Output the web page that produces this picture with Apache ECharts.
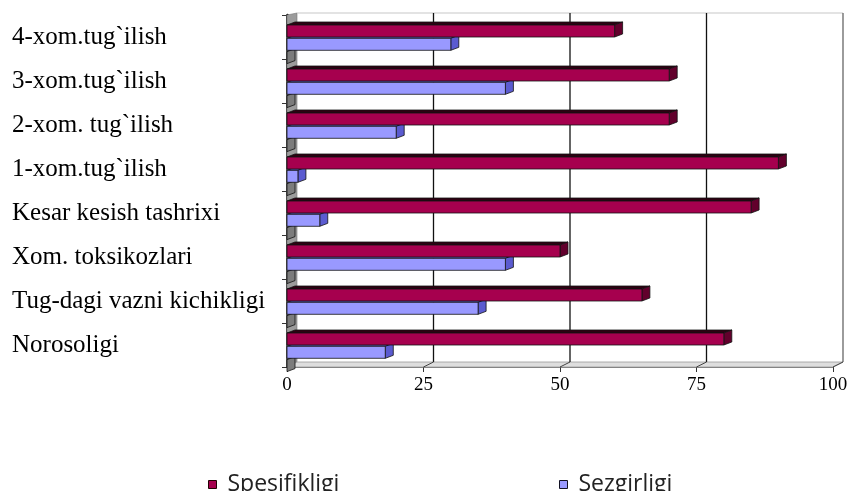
<!DOCTYPE html>
<html>
<head>
<meta charset="utf-8">
<script src="https://cdn.jsdelivr.net/npm/echarts@6/dist/echarts.min.js"></script>
<style>
  html, body { margin: 0; padding: 0; background: #fff; }
  #chart { width: 851px; height: 491px; }
</style>
</head>
<body>
<div id="chart"></div>
<script>
// Categories, bottom to top
const categories = [
  'Norosoligi',
  'Tug-dagi vazni kichikligi',
  'Xom. toksikozlari',
  'Kesar kesish tashrixi',
  '1-xom.tug`ilish',
  '2-xom. tug`ilish',
  '3-xom.tug`ilish',
  '4-xom.tug`ilish'
];
const spesifikligi = [80, 65, 50, 85, 90, 70, 70, 60];
const sezgirligi   = [18, 35, 40, 6, 2, 20, 40, 30];
const boshqa       = [0, 0, 0, 0, 0, 0, 0, 0];
const xTicks = [0, 25, 50, 75, 100];

const RED = '#a6004e', RED_TOP = '#2e0012', RED_SIDE = '#62002c';
const BLUE = '#9999ff', BLUE_TOP = '#6b6bd8', BLUE_SIDE = '#5b5bd0';
const GREY = '#8c8c8c', GREY_TOP = '#7a7a7a', GREY_SIDE = '#7c7c7c';

// 3D bar depth and back wall offset (pixels)
const BAR_DX = 8, BAR_DY = 3;
const WALL_DX = 10, WALL_UP = 2, FLOOR_UP = 5;

function toPairs(values) {
  return values.map((v, i) => [v, i]);
}

function bar3d(slot, face, top, side) {
  return function (params, api) {
    const v = api.value(0), i = api.value(1);
    const c0 = api.coord([0, i]);
    const c1 = api.coord([v, i]);
    const bandH = api.size([0, 1])[1];
    const h = 12;
    const y0 = c0[1] - bandH / 2 + 10 + slot * 13.3;
    const x0 = c0[0], x1 = c1[0];
    const st = { stroke: '#111', lineWidth: 0.8 };
    const children = [
      { type: 'polygon', shape: { points: [[x0, y0], [x1, y0], [x1 + BAR_DX, y0 - BAR_DY], [x0 + BAR_DX, y0 - BAR_DY]] },
        style: Object.assign({ fill: top }, st) },
      { type: 'polygon', shape: { points: [[x1, y0], [x1 + BAR_DX, y0 - BAR_DY], [x1 + BAR_DX, y0 + h - BAR_DY], [x1, y0 + h]] },
        style: Object.assign({ fill: side }, st) }
    ];
    if (x1 > x0) {
      children.push({ type: 'rect', shape: { x: x0, y: y0, width: x1 - x0, height: h },
        style: Object.assign({ fill: face }, st) });
    }
    return { type: 'group', children };
  };
}

// Back wall, left wall, floor and gridlines
function renderWalls(params, api) {
  const cs = params.coordSys;
  const v = api.value(0);
  const fx = api.coord([v, 0])[0];
  const bx = fx + WALL_DX;
  const top = cs.y - WALL_UP;
  const bottom = cs.y + cs.height - FLOOR_UP;
  const front = cs.y + cs.height;
  const children = [];
  if (v === 0) {
    children.push(
      { type: 'polygon', shape: { points: [[fx, cs.y], [bx, top], [bx, bottom], [fx, front]] },
        style: { fill: '#9c9c9c', stroke: '#777', lineWidth: 0.6 } },
      { type: 'polygon', shape: { points: [[fx, front], [fx + cs.width, front], [bx + cs.width, bottom], [bx, bottom]] },
        style: { fill: '#dedede', stroke: '#999', lineWidth: 0.8 } },
      { type: 'line', shape: { x1: bx, y1: top, x2: bx + cs.width, y2: top },
        style: { stroke: '#c8c8c8', lineWidth: 1.2 } }
    );
  } else {
    children.push(
      { type: 'line', shape: { x1: bx, y1: top, x2: bx, y2: bottom },
        style: { stroke: v === 100 ? '#666' : '#111', lineWidth: 1.3 } },
      { type: 'line', shape: { x1: fx, y1: front, x2: bx, y2: bottom },
        style: { stroke: '#444', lineWidth: 1 } }
    );
  }
  return { type: 'group', children };
}

const chart = echarts.init(document.getElementById('chart'));
chart.setOption({
  animation: false,
  backgroundColor: '#fff',
  grid: { left: 287, right: 18, top: 15, bottom: 124, containLabel: false },
  xAxis: {
    type: 'value', min: 0, max: 100, interval: 25,
    axisLine: { show: true, lineStyle: { color: '#777', width: 1 } },
    axisTick: { show: true, length: 5, lineStyle: { color: '#333' } },
    axisLabel: { margin: 9, fontFamily: 'Liberation Serif', fontSize: 19, color: '#000' },
    splitLine: { show: false }
  },
  yAxis: {
    type: 'category', data: categories,
    axisLine: { show: true, onZero: false, lineStyle: { color: '#000', width: 2.5 } },
    axisTick: { show: true, length: 5, lineStyle: { color: '#333' } },
    axisLabel: { interval: 0, margin: 275, align: 'left', fontFamily: 'Liberation Serif', fontSize: 25, color: '#000' },
    splitLine: { show: false }
  },
  legend: [
    {
      data: [{ name: 'Spesifikligi', itemStyle: { color: RED, borderColor: '#200', borderWidth: 1 } }],
      left: 208, top: 473, padding: 0, icon: 'rect', itemWidth: 8, itemHeight: 8,
      selectedMode: false,
      textStyle: { fontFamily: 'Open Sans', fontSize: 23, color: '#222', padding: [0, 0, 0, 6] }
    },
    {
      data: [{ name: 'Sezgirligi', itemStyle: { color: BLUE, borderColor: '#112', borderWidth: 1 } }],
      left: 559, top: 473, padding: 0, icon: 'rect', itemWidth: 8, itemHeight: 8,
      selectedMode: false,
      textStyle: { fontFamily: 'Open Sans', fontSize: 23, color: '#222', padding: [0, 0, 0, 6] }
    }
  ],
  series: [
    {
      type: 'custom', name: 'walls', silent: true, z: 1,
      data: xTicks.map(v => [v]), encode: { x: 0 },
      renderItem: renderWalls
    },
    {
      type: 'custom', name: 'boshqa', z: 2,
      itemStyle: { color: GREY },
      data: toPairs(boshqa), encode: { x: 0, y: 1 },
      renderItem: bar3d(2, GREY, GREY_TOP, GREY_SIDE)
    },
    {
      type: 'custom', name: 'Sezgirligi', z: 3,
      itemStyle: { color: BLUE },
      data: toPairs(sezgirligi), encode: { x: 0, y: 1 },
      renderItem: bar3d(1, BLUE, BLUE_TOP, BLUE_SIDE)
    },
    {
      type: 'custom', name: 'Spesifikligi', z: 4,
      itemStyle: { color: RED },
      data: toPairs(spesifikligi), encode: { x: 0, y: 1 },
      renderItem: bar3d(0, RED, RED_TOP, RED_SIDE)
    }
  ]
});
</script>
</body>
</html>
